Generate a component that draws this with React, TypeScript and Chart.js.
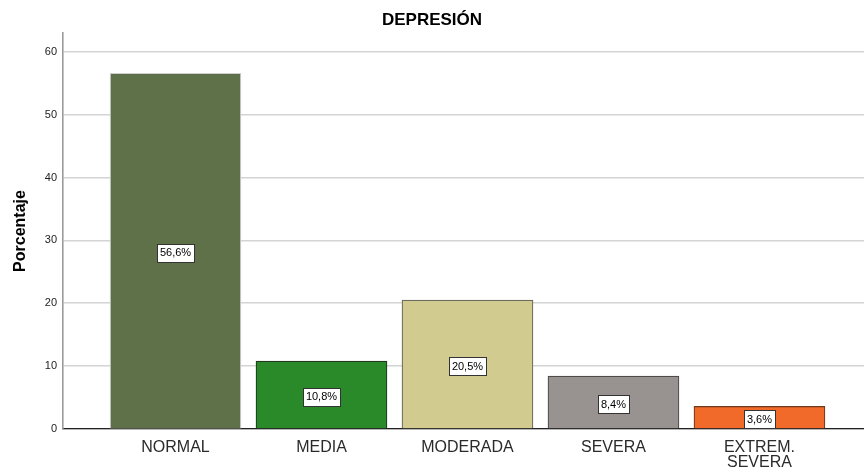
import React, { useEffect, useRef } from "react";
import { Chart, registerables } from "chart.js";

Chart.register(...registerables);

// Category labels (multi-line where needed) and percentage per category
const categories: (string | string[])[] = ["NORMAL", "MEDIA", "MODERADA", "SEVERA", ["EXTREM.", "SEVERA"]];
const percentages: number[] = [56.6, 10.8, 20.5, 8.4, 3.6];
const valueLabels: string[] = ["56,6%", "10,8%", "20,5%", "8,4%", "3,6%"];
const yTicks: number[] = [0, 10, 20, 30, 40, 50, 60];

const fillColors = ["#5e7149", "#2a8a2a", "#d1cb90", "#989391", "#f26a2a"];
const borderColors = ["#cfcfcf", "#1f3a1f", "#6b6a5c", "#4d4b4a", "#6e3a1e"];

const FONT = "'Liberation Sans', Arial, sans-serif";

// Boxed percentage labels centred in each bar
const boxedLabels = {
  id: "boxedLabels",
  afterDatasetsDraw(chart: any) {
    const { ctx } = chart;
    const meta = chart.getDatasetMeta(0);
    const yScale = chart.scales.y;
    ctx.save();
    ctx.font = `11px ${FONT}`;
    ctx.textAlign = "center";
    ctx.textBaseline = "middle";
    meta.data.forEach((bar: any, i: number) => {
      const text = valueLabels[i];
      const cx = bar.x;
      const cy = yScale.getPixelForValue(percentages[i] / 2) + 1.5;
      const w = Math.round(ctx.measureText(text).width + 6);
      const h = 18;
      const left = Math.round(cx - w / 2) + 0.5;
      const top = Math.round(cy - h / 2) + 0.5;
      ctx.fillStyle = "#ffffff";
      ctx.fillRect(left, top, w, h);
      ctx.strokeStyle = "#333333";
      ctx.lineWidth = 1;
      ctx.strokeRect(left, top, w, h);
      ctx.fillStyle = "#000000";
      ctx.fillText(text, cx, cy + 0.5);
    });
    ctx.restore();
  },
};

export default function App() {
  const canvasRef = useRef<HTMLCanvasElement | null>(null);

  useEffect(() => {
    if (!canvasRef.current) return;
    const chart = new Chart(canvasRef.current, {
      type: "bar",
      data: {
        datasets: [
          {
            data: percentages.map((v, i) => ({ x: i, y: v })),
            backgroundColor: fillColors,
            borderColor: borderColors,
            borderWidth: 1.2,
            barThickness: 131,
          },
        ],
      },
      options: {
        animation: false,
        responsive: false,
        maintainAspectRatio: false,
        layout: { padding: 0 },
        plugins: {
          legend: { display: false },
          tooltip: { enabled: false },
          title: {
            display: true,
            text: "DEPRESIÓN",
            color: "#000000",
            font: { family: FONT, size: 17, weight: "bold", lineHeight: 1.2 },
            padding: { top: 10, bottom: 2.6 },
          },
        },
        scales: {
          x: {
            type: "linear",
            offset: false,
            min: -0.7705,
            max: 4.716,
            afterBuildTicks: (axis: any) => {
              axis.ticks = categories.map((_, i) => ({ value: i }));
            },
            afterFit: (axis: any) => {
              axis.height = 41;
            },
            ticks: {
              autoSkip: false,
              maxRotation: 0,
              padding: 11,
              color: "#2a2a2a",
              font: { family: FONT, size: 16, lineHeight: 0.95 },
              callback: (value: any) => categories[value as number] ?? "",
            },
            grid: { offset: false, drawOnChartArea: false, drawTicks: false },
            border: { display: true, color: "#222222", width: 1.2 },
          },
          y: {
            min: 0,
            max: 63,
            afterBuildTicks: (axis: any) => {
              axis.ticks = yTicks.map((v) => ({ value: v }));
            },
            afterFit: (axis: any) => {
              axis.width = 63;
            },
            ticks: {
              padding: 6,
              color: "#222222",
              font: { family: FONT, size: 11 },
            },
            grid: { color: "#d4d4d4", lineWidth: 1.6, drawTicks: false },
            border: { display: true, color: "#9a9a9a", width: 1.6 },
            title: {
              display: true,
              text: "Porcentaje",
              color: "#000000",
              font: { family: FONT, size: 16, weight: "bold", lineHeight: 1.2 },
              padding: { top: 11, bottom: 0 },
            },
          },
        },
      },
      plugins: [boxedLabels],
    });
    return () => chart.destroy();
  }, []);

  return (
    <div style={{ position: "fixed", left: 0, top: 0, width: 864, height: 470, background: "#ffffff" }}>
      <canvas ref={canvasRef} width={864} height={470} style={{ display: "block", width: 864, height: 470 }} />
    </div>
  );
}
